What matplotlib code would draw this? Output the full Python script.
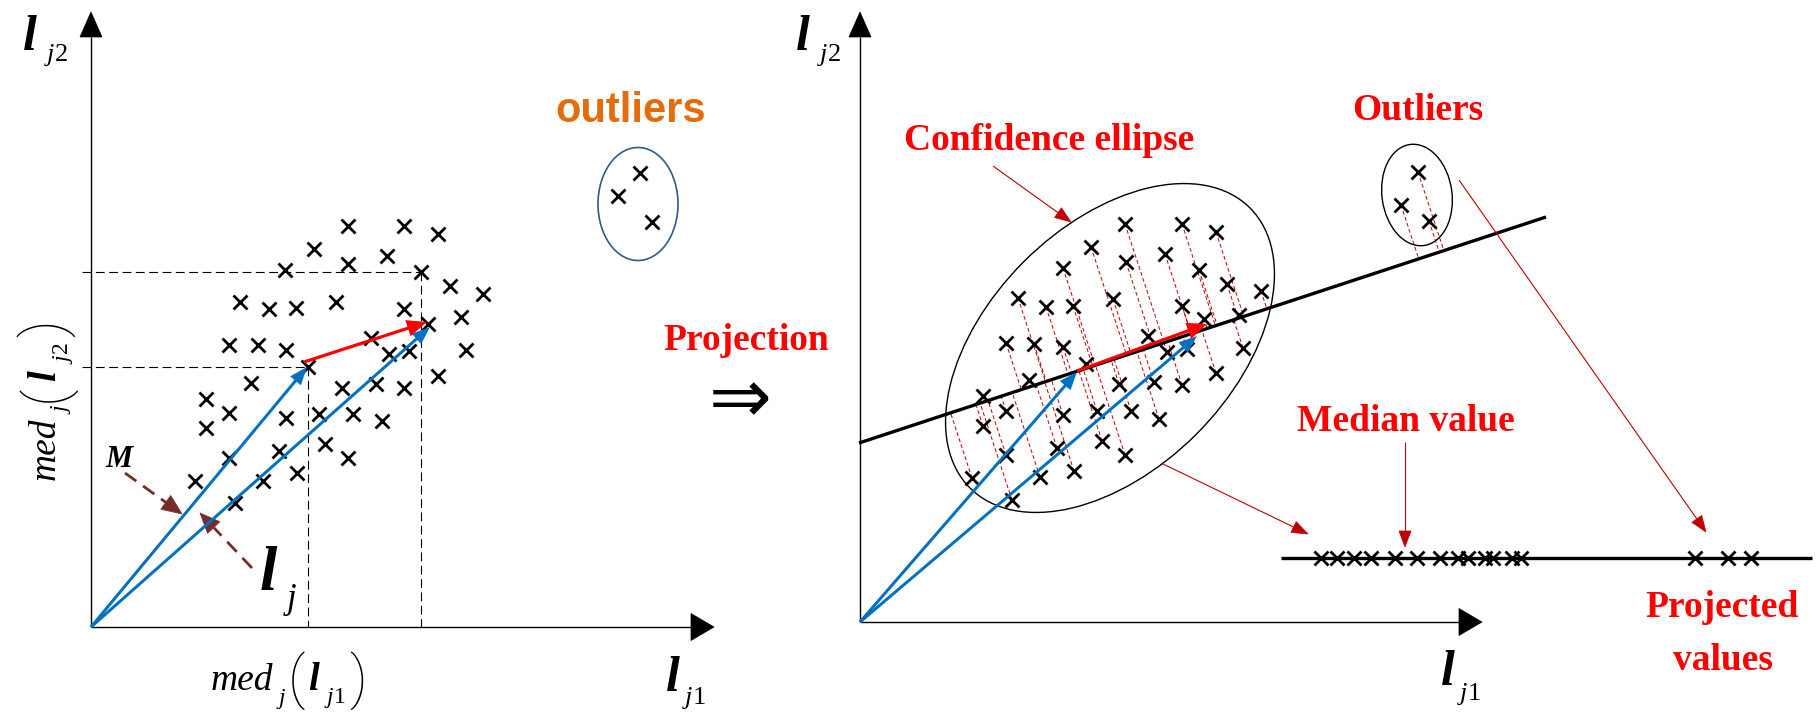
import numpy as np
import matplotlib
matplotlib.use('Agg')
import matplotlib.pyplot as plt
from matplotlib.patches import Ellipse, Polygon, FancyArrow

plt.rcParams['mathtext.fontset'] = 'custom'
plt.rcParams['mathtext.rm'] = 'Liberation Serif'
plt.rcParams['mathtext.it'] = 'Liberation Serif:italic'
plt.rcParams['mathtext.bf'] = 'Liberation Serif:bold'

# ---------------- data (pixel coordinates) ----------------
# left panel: data cloud
left_x = [348, 404, 438, 314, 387, 348, 285, 421, 450, 483, 240, 269, 296, 336, 404, 461, 428,
          229, 258, 286, 371, 389, 409, 466, 438, 251, 342, 376, 404, 206, 229, 206, 286, 319,
          353, 382, 279, 325, 348, 229, 195, 263, 297, 235, 308]
left_y = [226, 226, 234, 249, 256, 264, 270, 272, 286, 294, 302, 309, 308, 302, 309, 317, 324,
          345, 345, 350, 338, 354, 351, 350, 376, 383, 388, 384, 388, 399, 413, 428, 418, 414,
          414, 421, 451, 444, 458, 458, 481, 481, 473, 503, 367]
left_out_x = [640, 618, 652]
left_out_y = [173, 196, 222]

# right panel: data cloud
right_x = [1125, 1182, 1216, 1091, 1126, 1165, 1199, 1063, 1227, 1261, 1018, 1046, 1073, 1113,
           1182, 1239, 1204, 1006, 1034, 1063, 1148, 1167, 1187, 1243, 1216, 1086, 1029, 1119,
           1154, 1182, 983, 1006, 983, 1063, 1097, 1131, 1159, 1057, 1102, 1125, 1006, 972,
           1040, 1074, 1012]
right_y = [224, 224, 232, 247, 262, 254, 270, 268, 284, 291, 298, 307, 306, 299, 306, 315, 319,
           343, 344, 347, 336, 352, 349, 348, 373, 364, 380, 384, 382, 385, 396, 411, 426, 415,
           411, 411, 419, 448, 441, 455, 455, 478, 477, 471, 500]
right_out_x = [1418, 1401, 1429]
right_out_y = [172, 205, 221]

# projected values on the bottom line
proj_x = [1321, 1337, 1354, 1371, 1395, 1417, 1440, 1458, 1468, 1485, 1493, 1512, 1521]
proj_out_x = [1695, 1728, 1751]
proj_y = 558

# projection line (two points)
line_x = [859, 1546]
line_y = [443, 217]

BLUE = '#0070C0'
RED = '#FF0000'
DRED = '#C00000'
BROWN = '#772C2A'
ORANGE = '#E46C0A'
SERIF = 'Liberation Serif'
PAREN = ['Roboto', 'DejaVu Sans']

fig = plt.figure(figsize=(18.2, 7.15), dpi=100)
ax = fig.add_axes([0, 0, 1, 1])
ax.set_xlim(0, 1820)
ax.set_ylim(715, 0)
ax.axis('off')


def head(tip, frm, length, width, color, z=5):
    tip = np.array(tip, float)
    frm = np.array(frm, float)
    u = (tip - frm) / np.hypot(*(tip - frm))
    n = np.array([-u[1], u[0]])
    base = tip - u * length
    ax.add_patch(Polygon([tip, base + n * width / 2, base - n * width / 2],
                         closed=True, facecolor=color, edgecolor=color, lw=0.5, zorder=z))
    return base


def line_arrow(frm, tip, color, lw, hl, hw, dashes=None, z=5):
    base = head(tip, frm, hl, hw, color, z)
    kw = dict(color=color, lw=lw, zorder=z, solid_capstyle='butt')
    if dashes is not None:
        kw['dashes'] = dashes
    ax.plot([frm[0], base[0]], [frm[1], base[1]], **kw)


def thick_arrow(frm, tip, color, width, hl, hw, z=6):
    ax.add_patch(FancyArrow(frm[0], frm[1], tip[0] - frm[0], tip[1] - frm[1], width=width,
                            head_width=hw, head_length=hl, length_includes_head=True,
                            color=color, lw=0, zorder=z))


def pieces(x0, y0, items, rot=False):
    for s, size, fam, style, weight, along, perp in items:
        if rot:
            x, y, r = x0 + perp, y0 - along, 90
        else:
            x, y, r = x0 + along, y0 + perp, 0
        ax.text(x, y, s, fontsize=size, family=fam, style=style, weight=weight,
                rotation=r, rotation_mode='anchor', ha='left', va='baseline', zorder=8)


def lsub(xl, yb, sub, xs, ysb, big=36, small=19):
    ax.text(xl, yb, 'l', fontsize=big, family=SERIF, style='italic', weight='bold',
            ha='center', va='baseline', zorder=8)
    ax.text(xs, ysb, sub, fontsize=small, family=SERIF, ha='left', va='baseline', zorder=8)


# ---------------- axes of both panels ----------------
for ox, oy, tx, ty in [(91, 627, 91, 12), (860, 622, 860, 12)]:
    line_arrow((ox, oy), (tx, ty), 'black', 1.0, 25, 22)
for ox, oy, tx, ty in [(91, 627, 714, 627), (860, 622, 1482, 622)]:
    line_arrow((ox, oy), (tx, ty), 'black', 1.0, 23, 27)

# ---------------- left panel ----------------
dash_kw = dict(color='black', lw=0.8, dashes=(8, 4), zorder=2)
ax.plot([82, 421], [272, 272], **dash_kw)
ax.plot([421, 421], [272, 627], **dash_kw)
ax.plot([82, 308], [367, 367], **dash_kw)
ax.plot([308, 308], [367, 627], **dash_kw)

ax.plot(left_x, left_y, ls='none', marker='x', ms=10, mew=2, color='black', zorder=4)
ax.plot(left_out_x, left_out_y, ls='none', marker='x', ms=10, mew=2, color='black', zorder=4)
ax.add_patch(Ellipse((638, 204), 80, 113, fill=False, edgecolor='#2E5B8C', lw=1.2, zorder=3))

thick_arrow((91, 627), (307, 367), BLUE, 3, 18, 14)
thick_arrow((91, 627), (430, 327), BLUE, 3, 18, 14)
thick_arrow((304, 362), (427, 322), RED, 3.2, 20, 17, z=7)

line_arrow((125, 473), (182, 514), BROWN, 2.0, 20, 17, dashes=(5, 3))
line_arrow((252, 568), (200, 513), BROWN, 2.0, 20, 17, dashes=(5, 3))
ax.text(119, 467, 'M', fontsize=22, family=SERIF, style='italic', weight='bold',
        ha='center', va='baseline', zorder=8)
lsub(268, 590, '$j$', 283, 608, big=45, small=25)

ax.text(631, 122, 'outliers', fontsize=30, family='Liberation Sans', weight='bold',
        color=ORANGE, ha='center', va='baseline')

lsub(30, 50, '$j$2', 44, 61)
lsub(673, 691, '$j$1', 682, 704)

med_h = [('med', 27, SERIF, 'italic', 'normal', 0, 0),
         ('j', 17, SERIF, 'italic', 'normal', 68, 14),
         ('(', 42, PAREN, 'normal', 'light', 77, 7),
         ('l', 28, SERIF, 'italic', 'bold', 97, 0),
         ('$j$1', 17, SERIF, 'normal', 'normal', 113, 13),
         (')', 42, PAREN, 'normal', 'light', 138, 7)]
pieces(211, 690, med_h)
med_v = [('med', 27, SERIF, 'italic', 'normal', 0, 0),
         ('j', 17, SERIF, 'italic', 'normal', 66, 14),
         ('(', 42, PAREN, 'normal', 'light', 78, 7),
         ('l', 28, SERIF, 'italic', 'bold', 99, 0),
         ('$j$2', 17, SERIF, 'normal', 'normal', 116, 13),
         (')', 42, PAREN, 'normal', 'light', 143, 7)]
pieces(55, 480, med_v, rot=True)

# ---------------- middle ----------------
ax.text(746, 350, 'Projection', fontsize=27, family=SERIF, weight='bold', color=RED,
        ha='center', va='baseline')
ax.text(740, 402, '\u21d2', fontsize=54, family='DejaVu Sans', color='black',
        ha='center', va='center')

# ---------------- right panel ----------------
A = np.array([line_x[0], line_y[0]], float)
B = np.array([line_x[1], line_y[1]], float)
d = (B - A) / np.hypot(*(B - A))
for px, py in zip(right_x + right_out_x, right_y + right_out_y):
    p = np.array([px, py], float)
    f = A + d * np.dot(p - A, d)
    ax.plot([px, f[0]], [py, f[1]], color=DRED, lw=0.7, dashes=(4, 2.5), zorder=2)

ax.plot(line_x, line_y, color='black', lw=2.4, zorder=3, solid_capstyle='butt')
ax.add_patch(Ellipse((1110, 348), 396, 244, angle=-45, fill=False, edgecolor='black',
                     lw=1.0, zorder=3))
ax.add_patch(Ellipse((1417, 195), 70, 102, angle=-8, fill=False, edgecolor='black',
                     lw=1.0, zorder=3))

ax.plot(right_x, right_y, ls='none', marker='x', ms=10, mew=2, color='black', zorder=4)
ax.plot(right_out_x, right_out_y, ls='none', marker='x', ms=10, mew=2, color='black', zorder=4)

thick_arrow((860, 622), (1077, 372), BLUE, 3, 18, 14)
thick_arrow((860, 622), (1197, 336), BLUE, 3, 18, 14)
thick_arrow((1077, 371), (1207, 324), RED, 3.2, 20, 17, z=7)

# bottom projected line
ax.plot([1281, 1812], [proj_y, proj_y], color='black', lw=2.4, zorder=3, solid_capstyle='butt')
ax.plot(proj_x, [proj_y] * len(proj_x), ls='none', marker='x', ms=10, mew=2, color='black', zorder=4)
ax.plot(proj_out_x, [proj_y] * len(proj_out_x), ls='none', marker='x', ms=10, mew=2,
        color='black', zorder=4)

# thin red arrows
line_arrow((993, 166), (1071, 222), DRED, 0.8, 16, 12)
line_arrow((1161, 463), (1308, 534), DRED, 0.8, 16, 12)
line_arrow((1459, 180), (1706, 532), DRED, 0.8, 16, 12)
line_arrow((1405, 442), (1405, 547), DRED, 0.8, 16, 12)

# labels
ax.text(1049, 150, 'Confidence ellipse', fontsize=27, family=SERIF, weight='bold', color=RED,
        ha='center', va='baseline')
ax.text(1418, 120, 'Outliers', fontsize=27, family=SERIF, weight='bold', color=RED,
        ha='center', va='baseline')
ax.text(1406, 431, 'Median value', fontsize=27, family=SERIF, weight='bold', color=RED,
        ha='center', va='baseline')
ax.text(1722, 617, 'Projected', fontsize=27, family=SERIF, weight='bold', color=RED,
        ha='center', va='baseline')
ax.text(1723, 670, 'values', fontsize=27, family=SERIF, weight='bold', color=RED,
        ha='center', va='baseline')

lsub(803, 50, '$j$2', 817, 61)
lsub(1448, 685, '$j$1', 1457, 700)

fig.savefig('out.png', dpi=100)
